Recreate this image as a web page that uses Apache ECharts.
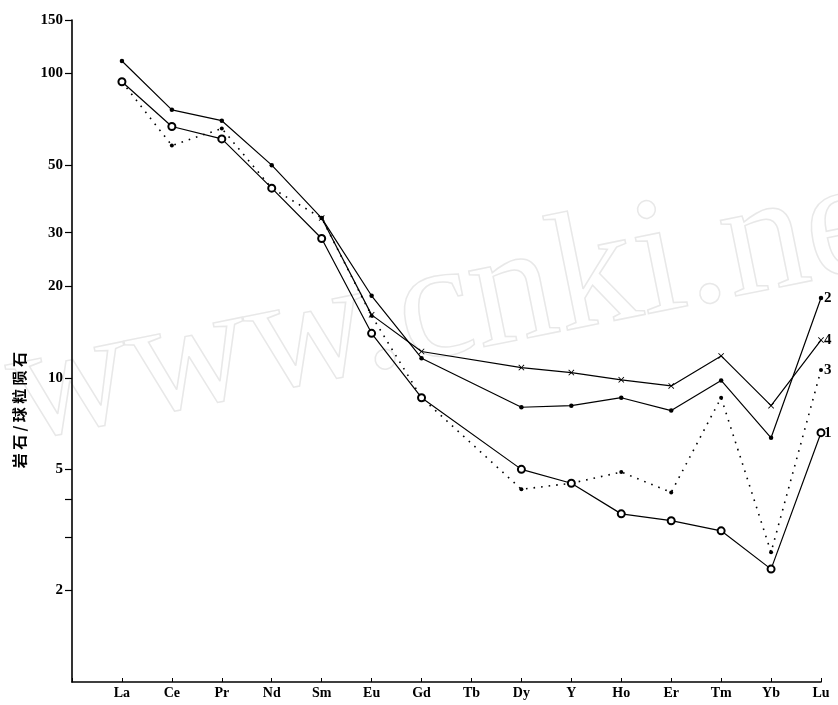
<!DOCTYPE html>
<html>
<head>
<meta charset="utf-8">
<script src="https://cdn.jsdelivr.net/npm/echarts@6/dist/echarts.min.js"></script>
<style>
  html, body { margin: 0; padding: 0; background: #fff; }
  #chart { width: 838px; height: 705px; }
</style>
</head>
<body>
<div id="chart"></div>
<script>
// 稀土元素 (Tb 无数据)
const elements = ['La', 'Ce', 'Pr', 'Nd', 'Sm', 'Eu', 'Gd', 'Tb', 'Dy', 'Y', 'Ho', 'Er', 'Tm', 'Yb', 'Lu'];
// 岩石/球粒陨石 比值
const sample1 = [94, 67, 61, 42, 28.7, 14, 8.6, null, 5.0, 4.5, 3.57, 3.39, 3.14, 2.35, 6.6];
const sample2 = [110, 76, 70, 50, 33.5, 18.6, 11.6, null, 8.0, 8.1, 8.6, 7.8, 9.8, 6.35, 18.3];
const sample3 = [94, 58, 66, 42, 33.5, 16, 8.6, null, 4.3, 4.5, 4.9, 4.2, 8.6, 2.67, 10.6];
const sample4 = [null, null, null, null, 33.5, 16.1, 12.2, null, 10.8, 10.4, 9.85, 9.4, 11.8, 8.1, 13.3];
const yLabels = [2, 5, 10, 20, 30, 50, 100, 150];
const yTicks = [2, 3, 4, 5, 10, 20, 30, 50, 100, 150];

const chart = echarts.init(document.getElementById('chart'));

const serif = '"Liberation Serif", "DejaVu Serif", serif';
const crossPath = 'path://M0,1L1,0L5,4L9,0L10,1L6,5L10,9L9,10L5,6L1,10L0,9L4,5Z';

// 首个空类目让 La 离开纵轴
const cats = [''].concat(elements);
const pad = arr => [null].concat(arr);

function lineSeries(name, data, symbol, size, dashed, z) {
    const hollow = symbol === 'emptyCircle';
    return {
        name: name,
        type: 'line',
        data: pad(data),
        connectNulls: true,
        symbol: symbol,
        symbolSize: size,
        lineStyle: { color: '#000', width: dashed ? 1.6 : 1.2, type: dashed ? [1.6, 6] : 'solid' },
        itemStyle: { color: '#000', borderColor: '#000', borderWidth: hollow ? 1.2 : 0 },
        endLabel: {
            show: true,
            formatter: name,
            distance: 3,
            fontFamily: serif,
            fontWeight: 'bold',
            fontSize: 15,
            color: '#000'
        },
        z: z
    };
}

const option = {
    animation: false,
    backgroundColor: '#fff',
    grid: { left: 72, top: 20, right: 17, bottom: 23 },
    xAxis: {
        type: 'category',
        data: cats,
        boundaryGap: false,
        axisLine: { lineStyle: { color: '#000', width: 1.6 } },
        axisTick: { inside: true, length: 4, interval: 0, lineStyle: { color: '#000' } },
        axisLabel: { interval: 0, margin: 4, color: '#000', fontFamily: serif, fontWeight: 'bold', fontSize: 14 },
        splitLine: { show: false }
    },
    yAxis: {
        type: 'log',
        logBase: 10,
        min: 1,
        max: 150,
        axisLine: { show: true, lineStyle: { color: '#000', width: 1.6 } },
        axisTick: { show: true, length: 7, customValues: yTicks, lineStyle: { color: '#000', width: 1.2 } },
        axisLabel: { customValues: yLabels, margin: 9, color: '#000', fontFamily: serif, fontWeight: 'bold', fontSize: 15 },
        splitLine: { show: false },
        minorTick: { show: false }
    },
    graphic: [
        {
            type: 'text',
            left: 12,
            top: 352,
            rotation: Math.PI / 2,
            style: {
                text: '岩 石 / 球 粒 陨 石',
                font: 'bold 15px "Noto Sans CJK SC", serif',
                fill: '#000'
            }
        },
        {
            type: 'text',
            x: 28,
            y: 480,
            rotation: 0.2,
            z: -10,
            silent: true,
            style: {
                text: 'www.cnki.net',
                font: '168px "Liberation Serif", serif',
                fill: 'none',
                stroke: '#e8e8e8',
                lineWidth: 1.5,
                textVerticalAlign: 'bottom'
            }
        }
    ],
    series: [
        lineSeries('2', sample2, 'circle', 4.5, false, 3),
        lineSeries('3', sample3, 'circle', 4, true, 3),
        lineSeries('4', sample4, crossPath, 6, false, 3),
        lineSeries('1', sample1, 'emptyCircle', 7, false, 4)
    ]
};

chart.setOption(option);
</script>
</body>
</html>
